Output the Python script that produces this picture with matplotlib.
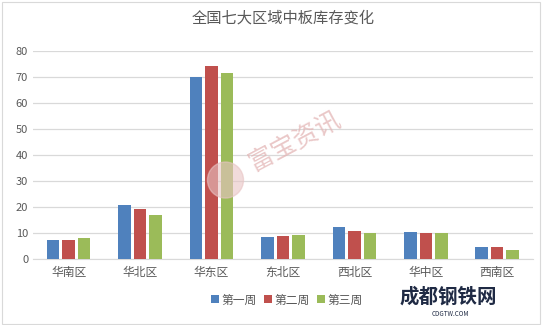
import numpy as np
import matplotlib.pyplot as plt
from matplotlib.patches import Rectangle, Ellipse

plt.rcParams['font.family'] = ['Noto Sans CJK SC', 'DejaVu Sans']

regions = ['华南区', '华北区', '华东区', '东北区', '西北区', '华中区', '西南区']
week1 = [7.4, 20.9, 70.1, 8.6, 12.4, 10.5, 4.7]
week2 = [7.4, 19.4, 74.4, 9.0, 10.9, 10.1, 4.7]
week3 = [8.2, 17.1, 71.7, 9.4, 9.9, 9.9, 3.6]
series_names = ['第一周', '第二周', '第三周']
colors = ['#4f81bd', '#c0504d', '#9bbb59']
text_color = '#595959'

fig = plt.figure(figsize=(5.5, 3.25), dpi=100)
ax = fig.add_axes([0.06, 0.203, 0.909, 0.639])

x = np.arange(len(regions))
width = 0.175
step = 0.217
for i, vals in enumerate([week1, week2, week3]):
    ax.bar(x + (i - 1) * step, vals, width, color=colors[i],
           label=series_names[i], zorder=3)

ax.set_xlim(-0.5, len(regions) - 0.5)
ax.set_ylim(0, 80)
ax.set_yticks(range(0, 81, 10))
ax.set_xticks(x)
ax.set_xticklabels(regions)
ax.grid(axis='y', color='#d9d9d9', linewidth=0.9, zorder=0)
for s in ['top', 'right', 'left']:
    ax.spines[s].set_visible(False)
ax.spines['bottom'].set_color('#d9d9d9')
ax.tick_params(axis='both', length=0, colors=text_color, labelsize=8)
ax.tick_params(axis='x', pad=5, labelsize=8.5)

fig.text(0.515, 0.945, '全国七大区域中板库存变化', ha='center', va='center',
         fontsize=11, color=text_color)

fig.legend(loc='center', bbox_to_anchor=(0.522, 0.077), ncol=3, frameon=False,
           fontsize=8.5, handlelength=0.7, handleheight=0.7, handletextpad=0.2,
           columnspacing=0.6, labelcolor=text_color)

# watermark
fig.text(0.535, 0.565, '富宝资讯', ha='center', va='center', rotation=28,
         fontsize=18, color='#e3b5b5', alpha=0.75)
fig.patches.append(Ellipse((0.41, 0.446), 36 / 550, 36 / 325,
                           transform=fig.transFigure, color='#e8c4c4',
                           alpha=0.6, zorder=5))

# logo bottom right
fig.text(0.727, 0.088, '成都钢铁网', fontsize=14, fontweight='bold',
         color='#1f2a44', va='center')
fig.text(0.785, 0.035, 'CDGTW.COM', fontsize=4.5, color='#1f2a44', va='center')

# chart border
fig.patches.append(Rectangle((0.004, 0.003), 0.978, 0.99, transform=fig.transFigure,
                             fill=False, edgecolor='#d9d9d9', linewidth=0.8))

fig.savefig('out.png', dpi=100)
